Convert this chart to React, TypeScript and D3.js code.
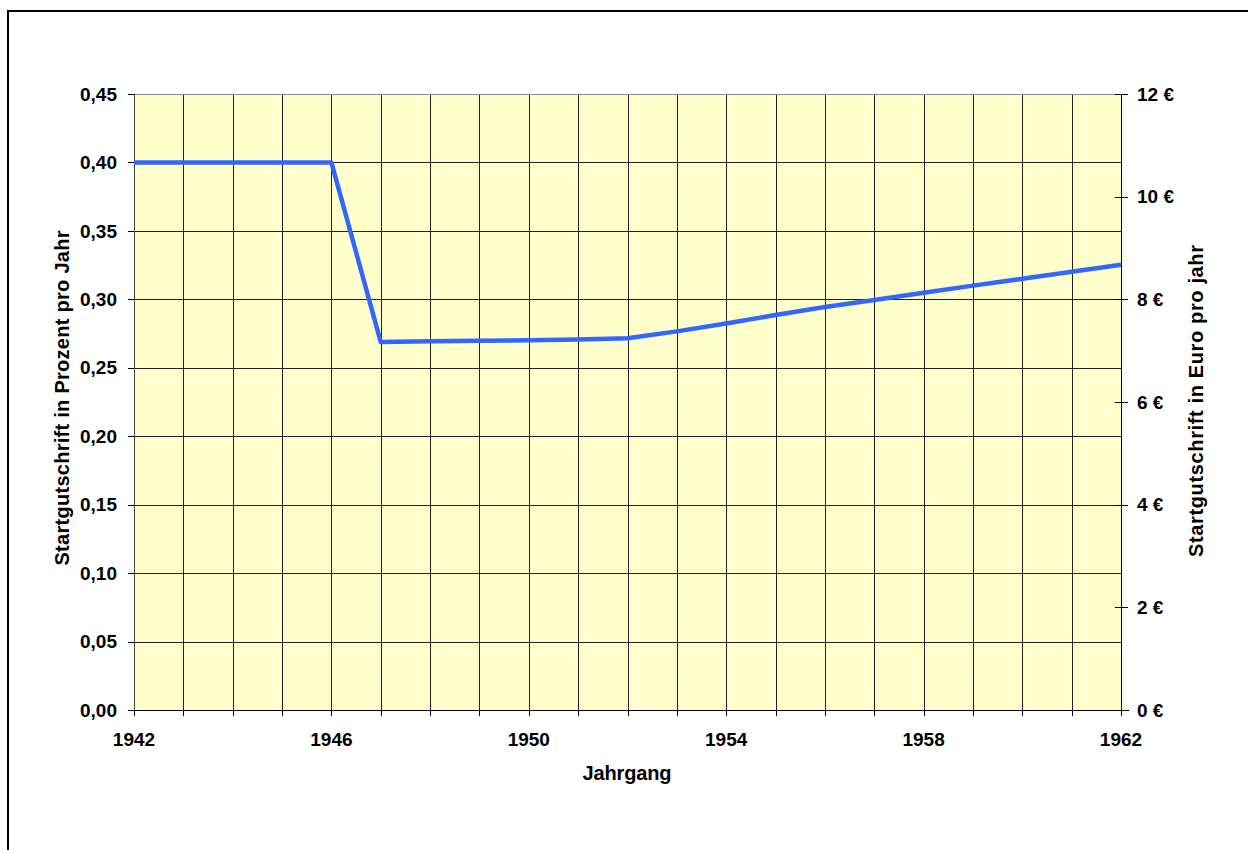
import React from 'react';
import * as d3 from 'd3';

const years = [1942, 1943, 1944, 1945, 1946, 1947, 1948, 1949, 1950, 1951, 1952,
  1953, 1954, 1955, 1956, 1957, 1958, 1959, 1960, 1961, 1962];
const rate = [0.40, 0.40, 0.40, 0.40, 0.40, 0.2688, 0.2693, 0.2697, 0.2701, 0.2706, 0.2716,
  0.2766, 0.2824, 0.2885, 0.2944, 0.2995, 0.3048, 0.3100, 0.3150, 0.3202, 0.3253];
const leftTicks = [0, 0.05, 0.1, 0.15, 0.2, 0.25, 0.3, 0.35, 0.4, 0.45];
const rightTicks = [0, 2, 4, 6, 8, 10, 12];
const xLabelYears = [1942, 1946, 1950, 1954, 1958, 1962];

const W = 1248, H = 850;
const PL = 134, PR = 1121, PT = 94, PB = 710;
const FONT = '"Liberation Sans", Arial, sans-serif';

export default function App() {
  const x = d3.scaleLinear().domain([1942, 1962]).range([PL, PR]);
  const y = d3.scaleLinear().domain([0, 0.45]).range([PB, PT]);
  const yR = d3.scaleLinear().domain([0, 12]).range([PB, PT]);
  const fmt = (v: number) => v.toFixed(2).replace('.', ',');
  const px = (v: number) => Math.round(v) + 0.5;

  const line = d3.line<number>()
    .x((_, i) => x(years[i]))
    .y(d => y(d));

  return (
    <div style={{ position: 'absolute', left: 0, top: 0 }}>
      <svg width={W} height={H} style={{ display: 'block', fontFamily: FONT }}>
        <rect x={0} y={0} width={W} height={H} fill="#fff" />
        {/* outer frame */}
        <rect x={8} y={11} width={W + 20} height={H + 20} fill="none" stroke="#000" strokeWidth={2} />

        {/* plot area */}
        <rect x={PL} y={PT} width={PR - PL} height={PB - PT} fill="#FFFFCC" />

        {/* vertical grid */}
        {years.map(yr => (
          <line key={'v' + yr} x1={px(x(yr))} x2={px(x(yr))} y1={PT} y2={PB} stroke="#222" strokeWidth={1} />
        ))}
        {/* horizontal grid */}
        {leftTicks.map(t => (
          <line key={'h' + t} x1={PL} x2={PR} y1={px(y(t))} y2={px(y(t))}
            stroke={t === 0.45 ? '#888' : '#222'} strokeWidth={1} />
        ))}
        {/* axes */}
        <line x1={PL + 0.5} x2={PL + 0.5} y1={PT} y2={PB + 1} stroke="#444" strokeWidth={1} />
        <line x1={PR + 0.5} x2={PR + 0.5} y1={PT} y2={PB + 1} stroke="#000" strokeWidth={1} />
        <line x1={PL} x2={PR + 8} y1={PB + 0.5} y2={PB + 0.5} stroke="#000" strokeWidth={1} />

        {/* left ticks + labels */}
        {leftTicks.map(t => (
          <g key={'lt' + t}>
            <line x1={PL - 6} x2={PL} y1={px(y(t))} y2={px(y(t))} stroke="#000" />
            <text x={117} y={y(t)} dy="0.35em" textAnchor="end" fontSize={19} fontWeight="bold" fill="#000">
              {fmt(t)}
            </text>
          </g>
        ))}

        {/* right ticks + labels */}
        {rightTicks.map(t => (
          <g key={'rt' + t}>
            <line x1={PR - 6} x2={PR + 7} y1={px(yR(t))} y2={px(yR(t))} stroke="#000" />
            <text x={1137} y={yR(t)} dy="0.35em" textAnchor="start" fontSize={19} fontWeight="bold" fill="#000">
              {t + ' €'}
            </text>
          </g>
        ))}

        {/* bottom ticks + labels */}
        {years.map(yr => (
          <line key={'bt' + yr} x1={px(x(yr))} x2={px(x(yr))} y1={PB} y2={PB + 6} stroke="#000" />
        ))}
        {xLabelYears.map(yr => (
          <text key={'bl' + yr} x={x(yr)} y={746} textAnchor="middle" fontSize={19} fontWeight="bold" fill="#000">
            {yr}
          </text>
        ))}

        {/* data line */}
        <path d={line(rate) ?? ''} fill="none" stroke="#3366FF" strokeWidth={4.5} strokeLinejoin="round" />

        {/* axis titles */}
        <text x={627} y={780} textAnchor="middle" fontSize={20} fontWeight="bold" fill="#000"
          textLength={89} lengthAdjust="spacing">Jahrgang</text>
        <text transform={`translate(69, 398) rotate(-90)`} textAnchor="middle"
          fontSize={20} fontWeight="bold" fill="#000" textLength={335} lengthAdjust="spacing">
          Startgutschrift in Prozent pro Jahr
        </text>
        <text transform={`translate(1203, 401) rotate(-90)`} textAnchor="middle"
          fontSize={20} fontWeight="bold" fill="#000" textLength={312} lengthAdjust="spacing">
          Startgutschrift in Euro pro jahr
        </text>
      </svg>
    </div>
  );
}
